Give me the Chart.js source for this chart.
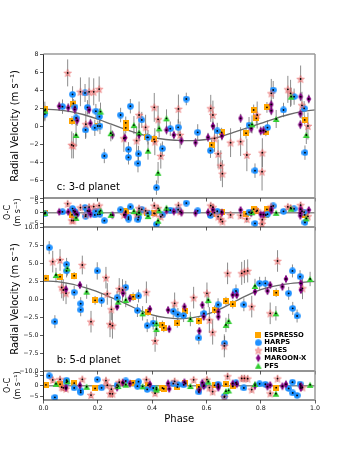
<!DOCTYPE html>
<html><head><meta charset="utf-8">
<script src="https://cdn.jsdelivr.net/npm/chart.js@4.4.1/dist/chart.umd.min.js"></script>
<style>
html,body{margin:0;padding:0;background:#fff;}
#wrap{position:relative;width:350px;height:450px;}
canvas{position:absolute;left:0;top:0;}
</style>
</head><body>
<div id="wrap">
<canvas id="p1" width="350" height="450"></canvas>
<canvas id="p2" width="350" height="450"></canvas>
<canvas id="p3" width="350" height="450"></canvas>
<canvas id="p4" width="350" height="450"></canvas>
</div>
<script>
// ---------- tick labels ----------
const xTicks = [0, 0.2, 0.4, 0.6, 0.8, 1.0];
const cTicks = [-8, -6, -4, -2, 0, 2, 4, 6, 8];
const bTicks = [-10, -7.5, -5, -2.5, 0, 2.5, 5, 7.5, 10];
const ocTicks = [-5, 0, 5];
const instruments = ['ESPRESSO', 'HARPS', 'HIRES', 'MAROON-X', 'PFS'];

// ---------- planet c (3-d) ----------
const cEspPhase = [0.007, 0.105, 0.11, 0.2, 0.303, 0.303, 0.382, 0.407, 0.619, 0.656, 0.746, 0.774, 0.784, 0.819, 0.823, 0.962];
const cEspRV    = [1.85, 0.6, 2.5, 0.0, 0.35, -0.2, -1.26, -1.48, -2.1, -0.7, -0.8, 1.78, 0.85, -0.63, 2.07, 0.67];
const cEspErr   = [0.4, 0.5, 0.5, 0.6, 0.7, 0.6, 0.5, 0.5, 0.6, 0.5, 0.6, 0.6, 0.6, 0.5, 0.6, 0.5];
const cEspOC    = [0.0, -1.0, 0.95, -0.75, 0.7, 0.15, -0.15, -0.2, -0.7, 0.45, -0.55, 1.7, 0.65, -1.1, 1.55, -1.0];

const cHarPhase = [0.005, 0.07, 0.107, 0.116, 0.12, 0.153, 0.155, 0.162, 0.189, 0.193, 0.206, 0.208, 0.224, 0.284, 0.313, 0.313, 0.32, 0.348, 0.35, 0.362, 0.385, 0.416, 0.438, 0.467, 0.496, 0.526, 0.568, 0.615, 0.64, 0.757, 0.779, 0.825, 0.846, 0.884, 0.923, 0.96, 0.963];
const cHarRV    = [1.33, 2.15, 3.52, 2.1, 0.9, 3.67, -0.44, 2.07, -0.2, 1.65, 1.04, 0.0, -3.33, 1.22, -2.6, -3.48, 2.2, -4.15, -3.1, 0.67, -1.26, -6.85, -2.52, -0.3, -0.15, 3.0, -0.7, -2.74, -0.55, 0.1, -4.96, -0.18, 4.0, 1.78, 3.26, 1.96, -2.96];
const cHarErr   = [0.8, 0.8, 0.9, 0.8, 0.8, 1.0, 1.0, 0.8, 0.9, 0.8, 0.9, 0.9, 0.8, 0.8, 0.8, 0.8, 0.8, 1.0, 0.9, 0.9, 0.8, 0.8, 0.8, 0.8, 0.9, 0.7, 0.9, 0.8, 0.9, 0.9, 0.8, 0.8, 1.0, 0.8, 0.9, 0.8, 0.8];
const cHarOC    = [-0.5, 0.4, 1.95, 0.6, -0.6, 2.45, -1.65, 0.9, -1.05, 0.8, 0.35, -0.7, -3.8, 1.4, -2.1, -3.0, 2.75, -3.3, -2.25, 1.6, -0.15, -5.5, -1.05, 1.25, 1.45, 4.6, 0.9, -1.3, 0.7, 0.25, -5.1, -0.7, 3.25, 0.65, 1.85, 0.3, -4.6];

const cHirPhase = [0.089, 0.104, 0.11, 0.136, 0.156, 0.168, 0.185, 0.205, 0.296, 0.343, 0.352, 0.376, 0.408, 0.41, 0.422, 0.432, 0.497, 0.503, 0.616, 0.624, 0.63, 0.643, 0.653, 0.659, 0.689, 0.726, 0.749, 0.787, 0.805, 0.806, 0.839, 0.9, 0.91, 0.947, 0.952, 0.974];
const cHirRV    = [5.9, -2.1, -2.2, 3.8, 0.2, 3.8, 3.8, 4.1, -1.37, -1.63, 1.22, -0.15, 2.07, -1.74, 0.74, -3.33, 1.9, -1.0, 1.96, 1.22, -1.37, -3.1, -4.4, -5.3, -1.85, -1.74, -3.22, 1.22, -5.07, -2.96, 3.63, 4.07, 3.63, 5.22, 2.3, 0.0];
const cHirErr   = [1.5, 1.5, 1.4, 1.6, 1.5, 1.6, 1.5, 1.4, 1.5, 1.6, 1.5, 1.4, 1.6, 1.5, 1.5, 1.4, 1.6, 1.5, 1.5, 1.6, 1.5, 1.6, 1.7, 1.5, 1.6, 1.6, 1.8, 1.5, 2.1, 1.6, 1.6, 1.5, 1.5, 1.5, 1.5, 1.5];
const cHirOC    = [4.25, -3.7, -3.75, 2.45, -1.0, 2.7, 2.9, 3.4, -1.05, -0.85, 2.1, 0.9, 3.35, -0.4, 2.1, -1.9, 3.5, 0.6, 3.4, 2.6, 0.0, -1.85, -3.2, -4.2, -1.05, -1.3, -3.0, 1.05, -5.4, -3.3, 2.9, 2.8, 2.3, 3.6, 0.7, -1.7];

const cMarPhase = [0.058, 0.091, 0.115, 0.124, 0.168, 0.173, 0.254, 0.3, 0.352, 0.453, 0.48, 0.508, 0.56, 0.606, 0.624, 0.657, 0.726, 0.765, 0.8, 0.81, 0.839, 0.839, 0.946, 0.946, 0.947, 0.977];
const cMarRV    = [2.2, 2.03, 1.85, 0.6, 1.8, 0.3, -1.0, -1.3, -1.0, -0.45, -1.0, -1.63, -1.85, -1.26, 0.0, -1.1, 0.85, -0.26, -0.55, -0.5, 2.4, 1.7, 0.15, 1.37, 3.26, 3.0];
const cMarErr   = [0.5, 0.5, 0.5, 0.6, 0.5, 0.5, 0.5, 0.5, 0.5, 0.5, 0.5, 0.5, 0.5, 0.5, 0.5, 0.5, 0.5, 0.5, 0.5, 0.5, 0.5, 0.5, 0.5, 0.5, 0.5, 0.5];
const cMarOC    = [0.4, 0.4, 0.35, -0.85, 0.7, -0.75, -1.15, -0.95, -0.15, 1.05, 0.55, 0.0, -0.25, 0.2, 1.35, 0.05, 1.3, -0.2, -0.85, -0.9, 1.7, 1.0, -1.45, -0.2, 1.7, 1.3];

const cPfsPhase = [0.005, 0.12, 0.21, 0.248, 0.333, 0.352, 0.385, 0.422, 0.426, 0.453, 0.768, 0.857, 0.912, 0.968];
const cPfsRV    = [1.7, -1.0, 1.6, -0.8, 0.1, -0.7, -2.74, -5.2, -0.26, 0.85, 0.18, 0.78, 3.26, -1.0];
const cPfsErr   = [1.0, 1.3, 1.0, 0.9, 1.0, 1.0, 1.0, 1.2, 1.0, 1.0, 1.0, 1.0, 1.0, 1.0];
const cPfsOC    = [-0.15, -2.45, 0.95, -1.0, 0.8, 0.15, -1.6, -3.8, 1.15, 2.35, 0.2, -0.05, 1.9, -2.7];

// ---------- planet b (5-d) ----------
const bEspPhase = [0.009, 0.061, 0.113, 0.19, 0.33, 0.385, 0.438, 0.443, 0.493, 0.523, 0.572, 0.63, 0.672, 0.697, 0.857];
const bEspRV    = [2.87, 3.1, 3.24, -0.19, 0.32, -1.76, -3.6, -4.0, -3.38, -1.6, -3.0, -1.5, -0.3, -0.72, 0.88];
const bEspErr   = [0.5, 0.5, 0.5, 0.6, 0.6, 0.6, 0.6, 0.6, 0.6, 0.6, 0.6, 0.6, 0.6, 0.6, 0.6];
const bEspOC    = [0.4, 0.75, 1.25, -1.3, 1.45, 0.25, -1.1, -1.45, -0.65, 1.1, -0.55, 0.2, 0.7, -0.25, -0.95];

const bHarPhase = [0.021, 0.042, 0.085, 0.085, 0.113, 0.137, 0.137, 0.198, 0.214, 0.271, 0.303, 0.346, 0.35, 0.382, 0.404, 0.478, 0.495, 0.516, 0.572, 0.591, 0.643, 0.667, 0.709, 0.738, 0.796, 0.817, 0.903, 0.917, 0.918, 0.934, 0.945];
const bHarRV    = [7.13, -3.15, 4.81, 3.9, 0.93, -0.65, -1.5, 3.9, -0.19, 0.18, 1.62, -1.6, 0.42, -3.7, -3.35, -1.7, -2.15, -2.3, -5.4, -2.0, -0.8, -6.15, 1.11, -0.8, 2.18, 2.18, 0.79, 3.9, -1.3, -2.36, 3.1];
const bHarErr   = [0.9, 0.9, 0.9, 0.9, 0.9, 0.9, 0.9, 1.2, 0.9, 0.9, 0.9, 0.9, 0.9, 0.9, 0.9, 0.9, 0.9, 0.9, 0.9, 0.9, 0.9, 1.0, 0.9, 0.9, 0.9, 0.9, 0.9, 0.9, 0.9, 0.9, 0.9];
const bHarOC    = [4.7, -5.55, 2.6, 1.7, -1.05, -2.4, -3.2, 2.9, -1.0, 0.3, 2.25, -0.2, 1.9, -1.75, -1.1, 1.0, 0.6, 0.4, -2.95, 0.25, 0.7, -5.05, 1.4, -1.05, 0.9, 0.7, -1.3, 1.7, -3.45, -4.6, 0.8];

const bHirPhase = [0.034, 0.061, 0.067, 0.073, 0.083, 0.143, 0.175, 0.23, 0.235, 0.245, 0.25, 0.254, 0.279, 0.291, 0.379, 0.411, 0.483, 0.553, 0.602, 0.611, 0.623, 0.666, 0.678, 0.73, 0.74, 0.752, 0.767, 0.835, 0.862, 0.954];
const bHirRV    = [5.19, 5.42, 1.6, 1.25, 0.79, 4.72, -3.15, 2.96, 0.7, -3.5, -1.44, -3.7, 1.4, 1.25, 0.93, -5.83, -0.6, 0.19, 0.79, -2.92, -4.63, -6.5, 3.56, 3.56, 3.8, 3.9, -1.06, -1.99, 5.28, 1.48];
const bHirErr   = [1.5, 1.5, 1.5, 1.5, 1.5, 1.3, 1.5, 1.5, 1.5, 1.8, 1.5, 1.8, 1.5, 1.5, 1.5, 1.5, 1.5, 1.5, 1.5, 1.8, 1.7, 1.6, 1.5, 1.6, 1.6, 1.6, 1.5, 1.5, 1.5, 1.5];
const bHirOC    = [2.75, 3.05, -0.7, -1.0, -1.4, 3.05, -4.45, 2.45, 0.25, -3.8, -1.65, -3.85, 1.65, 1.7, 2.85, -3.55, 2.1, 2.8, 2.9, -0.9, -2.8, -5.4, 4.45, 3.45, 3.5, 3.35, -1.85, -3.65, 3.4, -0.8];

const bMarPhase = [0.083, 0.134, 0.271, 0.293, 0.318, 0.392, 0.459, 0.463, 0.519, 0.574, 0.585, 0.59, 0.644, 0.644, 0.697, 0.712, 0.779, 0.825, 0.835, 0.88, 0.893, 0.948, 0.948];
const bMarRV    = [1.34, 1.94, -1.06, 0.79, 0.09, -1.39, -1.53, -4.17, -1.06, -4.44, -0.83, -2.45, -1.76, -2.45, 0.56, 0.56, 1.02, 1.11, 1.94, 1.71, 2.78, 2.18, 1.25];
const bMarErr   = [0.5, 0.5, 0.5, 0.5, 0.5, 0.5, 0.5, 0.5, 0.5, 0.5, 0.5, 0.5, 0.5, 0.5, 0.5, 0.5, 0.5, 0.5, 0.5, 0.5, 0.5, 0.5, 0.5];
const bMarOC    = [-0.85, 0.15, -0.9, 1.3, 1.0, 0.7, 1.1, -1.5, 1.65, -2.0, 1.45, -0.2, -0.25, -0.95, 1.05, 0.75, 0.0, -0.45, 0.3, -0.25, 0.7, -0.1, -1.05];

const bPfsPhase = [0.046, 0.088, 0.159, 0.275, 0.303, 0.365, 0.416, 0.416, 0.541, 0.607, 0.672, 0.682, 0.779, 0.856, 0.982];
const bPfsRV    = [3.33, 4.26, 1.02, -0.37, -0.14, -1.99, -3.38, -4.17, -2.78, -0.14, -3.6, -3.06, 1.81, -1.99, 2.78];
const bPfsErr   = [1.0, 1.0, 1.0, 1.0, 1.0, 1.0, 1.0, 1.0, 1.0, 1.0, 1.0, 1.0, 1.0, 1.0, 1.0];
const bPfsOC    = [0.9, 2.1, -0.5, -0.15, 0.5, -0.3, -1.05, -1.85, -0.15, 1.9, -2.6, -2.25, 0.8, -3.8, 0.4];

// ---------- Keplerian models ----------
const modelPhase = [0, 0.05, 0.1, 0.15, 0.2, 0.25, 0.3, 0.35, 0.4, 0.45, 0.5, 0.55, 0.6, 0.65, 0.7, 0.75, 0.8, 0.85, 0.9, 0.95, 1.0];
const modelC = [1.85, 1.8, 1.6, 1.25, 0.75, 0.2, -0.35, -0.85, -1.25, -1.5, -1.6, -1.62, -1.5, -1.2, -0.7, -0.2, 0.3, 0.8, 1.25, 1.6, 1.8];
const modelB = [2.5, 2.4, 2.1, 1.6, 1.0, 0.2, -0.6, -1.5, -2.2, -2.6, -2.75, -2.6, -2.15, -1.4, -0.45, 0.5, 1.3, 1.8, 2.1, 2.3, 2.45];
const zeroPhase = [0, 1];
const zeroVal = [0, 0];

// ---------- rendering ----------
const FONT = 'DejaVu Sans';

function mk(w, h, draw) {
  const c = document.createElement('canvas');
  c.width = w; c.height = h;
  draw(c.getContext('2d'));
  return c;
}
function starPath(g, cx, cy, R, r) {
  g.beginPath();
  for (let i = 0; i < 10; i++) {
    const a = -Math.PI / 2 + i * Math.PI / 5;
    const rr = i % 2 === 0 ? R : r;
    const x = cx + rr * Math.cos(a), y = cy + rr * Math.sin(a);
    if (i) g.lineTo(x, y); else g.moveTo(x, y);
  }
  g.closePath();
}
const markers = {
  'ESPRESSO': mk(6, 6, g => { g.fillStyle = '#FFA500'; g.fillRect(0, 0, 6, 6); }),
  'HARPS': mk(7, 7, g => { g.fillStyle = '#1E90FF'; g.beginPath(); g.arc(3.5, 3.5, 3.3, 0, 2 * Math.PI); g.fill(); }),
  'HIRES': mk(10, 10, g => { starPath(g, 5, 5.4, 4.0, 1.7); g.fillStyle = 'rgba(240,120,120,0.6)'; g.fill(); g.strokeStyle = 'rgba(230,95,95,0.6)'; g.lineWidth = 0.8; g.stroke(); }),
  'MAROON-X': mk(6, 10, g => { g.beginPath(); g.moveTo(3, 0.8); g.lineTo(5.4, 5); g.lineTo(3, 9.2); g.lineTo(0.6, 5); g.closePath(); g.fillStyle = '#800080'; g.fill(); }),
  'PFS': mk(8, 8, g => { g.beginPath(); g.moveTo(4, 1.0); g.lineTo(7.4, 7); g.lineTo(0.6, 7); g.closePath(); g.fillStyle = '#32CD32'; g.fill(); })
};

const cSeries = [
  {name: 'ESPRESSO', ph: cEspPhase, v: cEspRV, e: cEspErr, oc: cEspOC},
  {name: 'HARPS', ph: cHarPhase, v: cHarRV, e: cHarErr, oc: cHarOC},
  {name: 'HIRES', ph: cHirPhase, v: cHirRV, e: cHirErr, oc: cHirOC},
  {name: 'MAROON-X', ph: cMarPhase, v: cMarRV, e: cMarErr, oc: cMarOC},
  {name: 'PFS', ph: cPfsPhase, v: cPfsRV, e: cPfsErr, oc: cPfsOC}
];
const bSeries = [
  {name: 'ESPRESSO', ph: bEspPhase, v: bEspRV, e: bEspErr, oc: bEspOC},
  {name: 'HARPS', ph: bHarPhase, v: bHarRV, e: bHarErr, oc: bHarOC},
  {name: 'HIRES', ph: bHirPhase, v: bHirRV, e: bHirErr, oc: bHirOC},
  {name: 'MAROON-X', ph: bMarPhase, v: bMarRV, e: bMarErr, oc: bMarOC},
  {name: 'PFS', ph: bPfsPhase, v: bPfsRV, e: bPfsErr, oc: bPfsOC}
];

const minus = s => String(s).replace('-', '\u2212');

function makePanel(id, cfg) {
  const datasets = [];
  cfg.series.forEach(s => {
    const vals = s[cfg.key];
    const bars = [];
    s.ph.forEach((p, i) => {
      bars.push({x: p, y: vals[i] - s.e[i]}, {x: p, y: vals[i] + s.e[i]}, {x: p, y: null});
    });
    datasets.push({type: 'line', label: '', data: bars, borderColor: 'rgba(95,95,95,0.72)', borderWidth: 1,
      pointRadius: 0, spanGaps: false, tension: 0, order: 40, clip: 0});
  });
  datasets.push({type: 'line', label: '', data: cfg.model.ph.map((p, i) => ({x: p, y: cfg.model.v[i]})),
    borderColor: cfg.model.color, borderWidth: cfg.model.width, pointRadius: 0,
    cubicInterpolationMode: 'monotone', order: 30, clip: 0});
  cfg.series.forEach((s, k) => {
    const vals = s[cfg.key];
    const pts = s.ph.map((p, i) => ({x: p, y: vals[i]}));
    datasets.push({type: 'scatter', label: s.name, data: pts, pointStyle: markers[s.name], pointRadius: 3,
      pointHoverRadius: 3, borderWidth: 0, order: 20 - k, clip: 0});
    datasets.push({type: 'scatter', label: '', data: pts, pointStyle: 'circle', pointRadius: 0.9,
      pointHoverRadius: 0.9, backgroundColor: '#000', borderColor: '#000', borderWidth: 0, order: 1, clip: 0});
  });

  const xH = cfg.showX ? 50 : 0;
  const framePlugin = {
    id: 'frame',
    afterDatasetsDraw(chart) {
      const {ctx, chartArea: a} = chart;
      ctx.save();
      ctx.lineWidth = 1;
      ctx.strokeStyle = '#2a2a2a';
      ctx.beginPath();
      ctx.moveTo(a.left, a.top); ctx.lineTo(a.left, a.bottom); ctx.lineTo(a.right, a.bottom);
      ctx.stroke();
      ctx.strokeStyle = '#9a9a9a';
      ctx.lineWidth = 1.5;
      ctx.beginPath();
      ctx.moveTo(a.right, a.top); ctx.lineTo(a.right, a.bottom);
      if (cfg.topLine) { ctx.moveTo(a.left, a.top); ctx.lineTo(a.right, a.top); }
      ctx.stroke();
      if (cfg.label) {
        ctx.font = '10px "' + FONT + '"';
        ctx.fillStyle = '#000';
        ctx.textBaseline = 'middle';
        ctx.textAlign = 'left';
        ctx.fillText(cfg.label, a.left + 13.2, a.bottom - 10.5);
      }
      ctx.restore();
    }
  };
  const legendPlugin = {
    id: 'legendPos',
    afterLayout(chart) {
      const lg = chart.legend;
      if (!lg || !cfg.legend) return;
      const L = 254.9, T = 330.7;
      const w = lg.width;
      lg.left = L; lg.top = T; lg.right = L + w; lg.bottom = T + 60;
    }
  };

  return new Chart(document.getElementById(id), {
    type: 'scatter',
    data: {datasets},
    plugins: [framePlugin, legendPlugin],
    options: {
      responsive: false,
      animation: false,
      devicePixelRatio: 1,
      events: [],
      layout: {padding: {left: 0, right: 35, top: cfg.top, bottom: 450 - cfg.bottom - xH}},
      plugins: {
        tooltip: {enabled: false},
        legend: cfg.legend ? {
          display: true, position: 'chartArea', align: 'start',
          labels: {
            usePointStyle: true, boxWidth: 5, boxHeight: 5, padding: 0.9, color: '#000',
            font: {family: FONT, size: 6.8, weight: 'bold'},
            filter: it => instruments.includes(it.text),
            sort: (a, b) => a.datasetIndex - b.datasetIndex
          }
        } : {display: false}
      },
      scales: {
        x: {
          type: 'linear', min: 0, max: 1, position: 'bottom',
          afterFit(s) { s.height = xH; },
          afterBuildTicks(s) { s.ticks = xTicks.map(v => ({value: v})); },
          ticks: {display: cfg.showX, autoSkip: false, maxRotation: 0, padding: 1, color: '#111',
            font: {family: FONT, size: 6.3}, callback: v => Number(v).toFixed(1)},
          grid: {drawOnChartArea: false, drawTicks: true, tickLength: 3.5, color: '#333', lineWidth: 0.8},
          border: {display: false},
          title: {display: cfg.showX, text: 'Phase', color: '#000', font: {family: FONT, size: 10},
            padding: {top: 0, bottom: 25}}
        },
        y: {
          type: 'linear', min: cfg.yMin, max: cfg.yMax, position: 'left',
          afterFit(s) { s.width = 43.5; },
          afterBuildTicks(s) { s.ticks = cfg.yTicks.map(v => ({value: v})); },
          ticks: {autoSkip: false, padding: 1.5, color: '#111', font: {family: FONT, size: 6.3},
            callback: cfg.fmt},
          grid: {drawOnChartArea: false, drawTicks: true, tickLength: 3.5, color: '#333', lineWidth: 0.8},
          border: {display: false},
          title: {display: true, text: cfg.title, color: '#000', font: {family: FONT, size: cfg.titleSize},
            padding: {top: cfg.titlePad, bottom: 0}}
        }
      }
    }
  });
}

makePanel('p1', {top: 54, bottom: 198, yMin: -8, yMax: 8, yTicks: cTicks, fmt: v => minus(v),
  title: 'Radial Velocity (m s\u207B\u00B9)', titleSize: 10, titlePad: 9, series: cSeries, key: 'v',
  model: {ph: modelPhase, v: modelC, color: '#6a6a6a', width: 1.3}, showX: false, legend: false,
  label: 'c: 3-d planet', topLine: true});
makePanel('p2', {top: 198, bottom: 227, yMin: -6.8, yMax: 7.0, yTicks: ocTicks, fmt: v => minus(v),
  title: ['O-C', '(m s\u207B\u00B9)'], titleSize: 8, titlePad: 3.5, series: cSeries, key: 'oc',
  model: {ph: zeroPhase, v: zeroVal, color: '#8c8c8c', width: 1.5}, showX: false, legend: false});
makePanel('p3', {top: 227, bottom: 371, yMin: -10, yMax: 10, yTicks: bTicks, fmt: v => minus(Number(v).toFixed(1)),
  title: 'Radial Velocity (m s\u207B\u00B9)', titleSize: 10, titlePad: 9, series: bSeries, key: 'v',
  model: {ph: modelPhase, v: modelB, color: '#6a6a6a', width: 1.3}, showX: false, legend: true,
  label: 'b: 5-d planet'});
makePanel('p4', {top: 371, bottom: 400, yMin: -6.8, yMax: 7.0, yTicks: ocTicks, fmt: v => minus(v),
  title: ['O-C', '(m s\u207B\u00B9)'], titleSize: 8, titlePad: 3.5, series: bSeries, key: 'oc',
  model: {ph: zeroPhase, v: zeroVal, color: '#8c8c8c', width: 1.5}, showX: true, legend: false});
</script>
</body></html>
